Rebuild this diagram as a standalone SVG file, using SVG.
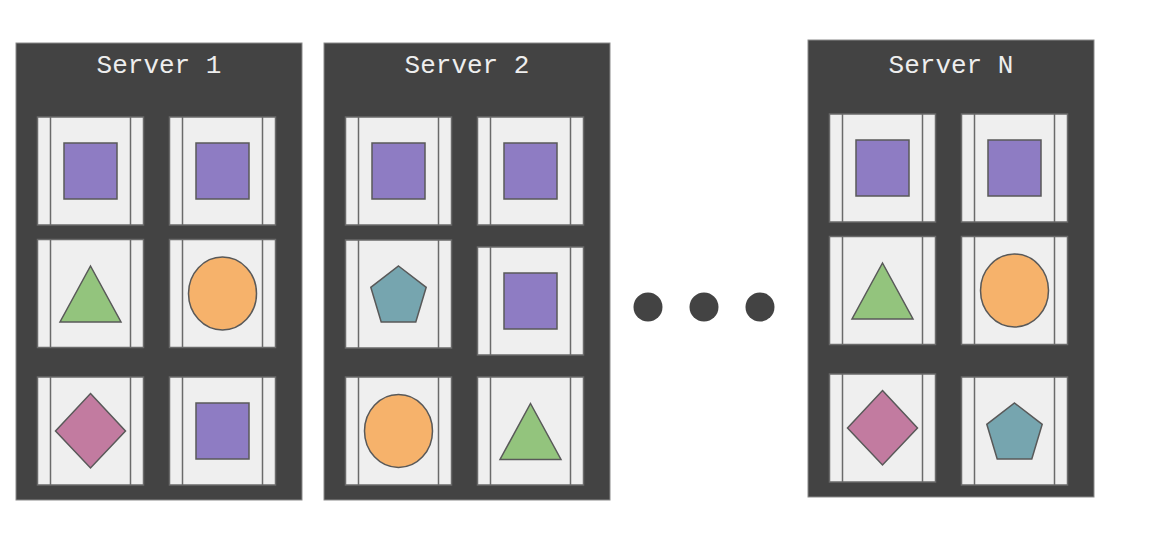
<svg xmlns="http://www.w3.org/2000/svg" xmlns:xlink="http://www.w3.org/1999/xlink" width="1150" height="539" viewBox="0 0 1150 539">
<style>
.server{fill:#434343;stroke:#8a8a8a;stroke-width:1}
.title{font-family:"Liberation Mono","DejaVu Sans Mono",monospace;font-size:26px;fill:#eeeeee;text-anchor:middle}
.card{fill:#efefef;stroke:#6a6a6a;stroke-width:1.5}
.cline{stroke:#6a6a6a;stroke-width:1.5}
.shape{stroke:#595959;stroke-width:1.5}
.sq{fill:#8e7cc3}
.tri{fill:#93c47d}
.cir{fill:#f6b26b}
.dia{fill:#c27ba0}
.pen{fill:#76a5af}
.dot{fill:#434343}
</style>
<defs>
<g id="cardbg">
<rect class="card" x="0" y="0" width="106" height="108"/>
<line class="cline" x1="13" y1="0" x2="13" y2="108"/>
<line class="cline" x1="93" y1="0" x2="93" y2="108"/>
</g>
<g id="c-sq"><use xlink:href="#cardbg"/><rect class="shape sq" x="26.5" y="26" width="53" height="56"/></g>
<g id="c-tri"><use xlink:href="#cardbg"/><polygon class="shape tri" points="53,26.5 83.5,82.5 22.5,82.5"/></g>
<g id="c-cir"><use xlink:href="#cardbg"/><ellipse class="shape cir" cx="53" cy="54" rx="34" ry="36.5"/></g>
<g id="c-dia"><use xlink:href="#cardbg"/><polygon class="shape dia" points="53,16.5 88,54 53,91 18,54"/></g>
<g id="c-pen"><use xlink:href="#cardbg"/><polygon class="shape pen" points="53,26 80.7,47.3 70.3,82 35.7,82 25.3,47.3"/></g>
</defs>

<g id="server1">
<rect class="server" x="16" y="43" width="286" height="457"/>
<text class="title" x="159" y="73">Server 1</text>
<use xlink:href="#c-sq" x="37.5" y="117"/>
<use xlink:href="#c-sq" x="169.5" y="117"/>
<use xlink:href="#c-tri" x="37.5" y="239.5"/>
<use xlink:href="#c-cir" x="169.5" y="239.5"/>
<use xlink:href="#c-dia" x="37.5" y="377"/>
<use xlink:href="#c-sq" x="169.5" y="377"/>
</g>

<g id="server2">
<rect class="server" x="324" y="43" width="286" height="457"/>
<text class="title" x="467" y="73">Server 2</text>
<use xlink:href="#c-sq" x="345.5" y="117"/>
<use xlink:href="#c-sq" x="477.5" y="117"/>
<use xlink:href="#c-pen" x="345.5" y="240"/>
<use xlink:href="#c-sq" x="477.5" y="247"/>
<use xlink:href="#c-cir" x="345.5" y="377"/>
<use xlink:href="#c-tri" x="477.5" y="377"/>
</g>

<g id="ellipsis">
<circle class="dot" cx="648" cy="307" r="14.5"/>
<circle class="dot" cx="704" cy="307" r="14.5"/>
<circle class="dot" cx="760" cy="307" r="14.5"/>
</g>

<g id="serverN">
<rect class="server" x="808" y="40" width="286" height="457"/>
<text class="title" x="951" y="73">Server N</text>
<use xlink:href="#c-sq" x="829.5" y="114"/>
<use xlink:href="#c-sq" x="961.5" y="114"/>
<use xlink:href="#c-tri" x="829.5" y="236.5"/>
<use xlink:href="#c-cir" x="961.5" y="236.5"/>
<use xlink:href="#c-dia" x="829.5" y="374"/>
<use xlink:href="#c-pen" x="961.5" y="377"/>
</g>

<g id="connectors"></g>
</svg>
